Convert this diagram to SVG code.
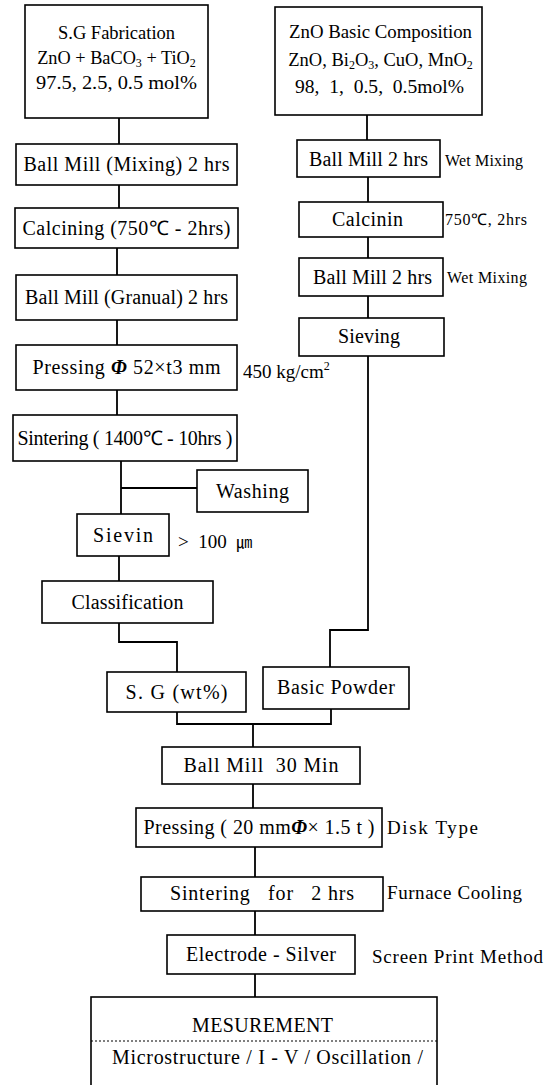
<svg xmlns="http://www.w3.org/2000/svg" width="557" height="1085" viewBox="0 0 557 1085">
<style>
.box{fill:#fff;stroke:#000;stroke-width:1.6}
.ln{fill:none;stroke:#000;stroke-width:1.8}
text{font-family:"Liberation Serif","Times New Roman",serif;fill:#000}
.t{font-size:20px;text-anchor:middle}
.a{font-size:19px}
.s{font-size:16px}
.sub{font-size:12px}
</style>
<rect width="557" height="1085" fill="#fff"/>
<g id="connectors">
<path class="ln" d="M119 118V144M119 185V208M117 248V275M117 320V345M117 390V415M121 461V514M121 488H197M119 556V581M119 623V642H177V672"/>
<path class="ln" d="M367 115V140M368 177V202M368 237V258M368 296V318M368 356V630H330V667"/>
<path class="ln" d="M177 712V724H331V709M253 724V747M253 784V808M255 847V877M255 911V935M255 974V997"/>
</g>
<g id="sg-fabrication">
<rect class="box" x="25" y="5" width="183" height="113"/>
<text class="t" x="116.5" y="39" style="font-size:19px" textLength="117" lengthAdjust="spacingAndGlyphs">S.G Fabrication</text>
<text class="t" x="116.5" y="64" style="font-size:18.3px">ZnO + BaCO<tspan class="sub" dy="3">3</tspan><tspan dy="-3"> + TiO</tspan><tspan class="sub" dy="3">2</tspan></text>
<text class="t" x="116.5" y="89" style="font-size:19px" textLength="161" lengthAdjust="spacingAndGlyphs">97.5, 2.5, 0.5 mol%</text>
</g>
<g id="ballmill-mixing">
<rect class="box" x="16" y="144" width="221" height="41"/>
<text class="t" x="126.5" y="171" textLength="206" lengthAdjust="spacing">Ball Mill (Mixing) 2 hrs</text>
</g>
<g id="calcining">
<rect class="box" x="15" y="208" width="223" height="40"/>
<text class="t" x="126.5" y="235" textLength="208" lengthAdjust="spacing">Calcining (750℃ - 2hrs)</text>
</g>
<g id="ballmill-granual">
<rect class="box" x="16" y="275" width="221" height="45"/>
<text class="t" x="126.5" y="304" textLength="203" lengthAdjust="spacing">Ball Mill (Granual) 2 hrs</text>
</g>
<g id="pressing1">
<rect class="box" x="16" y="345" width="221" height="45"/>
<text class="t" x="126.5" y="374" textLength="188" lengthAdjust="spacing">Pressing <tspan font-style="italic" font-weight="bold">Φ</tspan> 52×t3 mm</text>
<text class="a" x="243" y="378">450 kg/cm<tspan class="sub" dy="-8">2</tspan></text>
</g>
<g id="sintering1">
<rect class="box" x="13" y="415" width="224" height="46"/>
<text class="t" x="125" y="445" textLength="215" lengthAdjust="spacing">Sintering ( 1400℃ - 10hrs )</text>
</g>
<g id="washing">
<rect class="box" x="197" y="470" width="111" height="42"/>
<text class="t" x="252.5" y="498" textLength="73" lengthAdjust="spacing">Washing</text>
</g>
<g id="sievin">
<rect class="box" x="77" y="514" width="92" height="42"/>
<text class="t" x="123" y="542" textLength="60" lengthAdjust="spacing">Sievin</text>
<text class="a" x="178" y="548">&gt;&#160;&#160;100&#160;&#160;<tspan style="font-family:'Noto Sans CJK KR',sans-serif;font-size:16px">㎛</tspan></text>
</g>
<g id="classification">
<rect class="box" x="42" y="581" width="171" height="42"/>
<text class="t" x="127.5" y="609" textLength="112" lengthAdjust="spacing">Classification</text>
</g>
<g id="sg-wt">
<rect class="box" x="107" y="672" width="139" height="40"/>
<text class="t" x="176.5" y="699" textLength="102" lengthAdjust="spacing">S. G (wt%)</text>
</g>
<g id="basic-powder">
<rect class="box" x="263" y="667" width="146" height="42"/>
<text class="t" x="336" y="694" textLength="118" lengthAdjust="spacing">Basic Powder</text>
</g>
<g id="ballmill-30">
<rect class="box" x="162" y="747" width="198" height="37"/>
<text class="t" x="261" y="772" textLength="155" lengthAdjust="spacing">Ball Mill&#160;&#160;30 Min</text>
</g>
<g id="pressing2">
<rect class="box" x="136" y="808" width="246" height="39"/>
<text class="t" x="259" y="834" textLength="231" lengthAdjust="spacing">Pressing ( 20 mm<tspan font-style="italic" font-weight="bold">Φ</tspan>× 1.5 t )</text>
<text class="a" x="387" y="834" textLength="91" lengthAdjust="spacing">Disk Type</text>
</g>
<g id="sintering2">
<rect class="box" x="141" y="877" width="242" height="34"/>
<text class="t" x="262" y="900" textLength="184" lengthAdjust="spacing">Sintering&#160;&#160; for&#160;&#160; 2 hrs</text>
<text class="a" x="387" y="899" textLength="135" lengthAdjust="spacing">Furnace Cooling</text>
</g>
<g id="electrode">
<rect class="box" x="167" y="935" width="188" height="39"/>
<text class="t" x="261" y="961" textLength="150" lengthAdjust="spacing">Electrode - Silver</text>
<text class="a" x="372" y="963" textLength="171" lengthAdjust="spacing">Screen Print Method</text>
</g>
<g id="measurement">
<rect class="box" x="91" y="997" width="346" height="100"/>
<line x1="91" y1="1041" x2="437" y2="1041" stroke="#000" stroke-width="1" stroke-dasharray="2 2"/>
<text class="t" x="262.5" y="1032" textLength="141" lengthAdjust="spacing">MESUREMENT</text>
<text class="t" x="267.5" y="1064" textLength="311" lengthAdjust="spacing">Microstructure / I - V / Oscillation /</text>
</g>
<g id="zno-basic">
<rect class="box" x="275" y="7" width="207" height="108"/>
<text class="t" x="380.5" y="38" style="font-size:19px" textLength="183" lengthAdjust="spacingAndGlyphs">ZnO Basic Composition</text>
<text class="t" x="380.5" y="66" style="font-size:18.5px">ZnO, Bi<tspan class="sub" dy="3">2</tspan><tspan dy="-3">O</tspan><tspan class="sub" dy="3">3</tspan><tspan dy="-3">, CuO, MnO</tspan><tspan class="sub" dy="3">2</tspan></text>
<text class="t" x="379.5" y="93" style="font-size:19px" textLength="169" lengthAdjust="spacingAndGlyphs">98,&#160; 1,&#160; 0.5,&#160; 0.5mol%</text>
</g>
<g id="ballmill-2a">
<rect class="box" x="297" y="140" width="143" height="37"/>
<text class="t" x="368.5" y="166" textLength="119" lengthAdjust="spacing">Ball Mill 2 hrs</text>
<text class="s" x="445" y="166" textLength="78" lengthAdjust="spacing">Wet Mixing</text>
</g>
<g id="calcinin">
<rect class="box" x="299" y="202" width="144" height="35"/>
<text class="t" x="367.5" y="226" textLength="71" lengthAdjust="spacing">Calcinin</text>
<text class="s" x="445" y="225" textLength="82" lengthAdjust="spacing">750℃, 2hrs</text>
</g>
<g id="ballmill-2b">
<rect class="box" x="299" y="258" width="144" height="38"/>
<text class="t" x="372.5" y="284" textLength="119" lengthAdjust="spacing">Ball Mill 2 hrs</text>
<text class="s" x="447" y="283" textLength="80" lengthAdjust="spacing">Wet Mixing</text>
</g>
<g id="sieving">
<rect class="box" x="299" y="318" width="145" height="38"/>
<text class="t" x="369" y="343" textLength="62" lengthAdjust="spacing">Sieving</text>
</g>
</svg>
